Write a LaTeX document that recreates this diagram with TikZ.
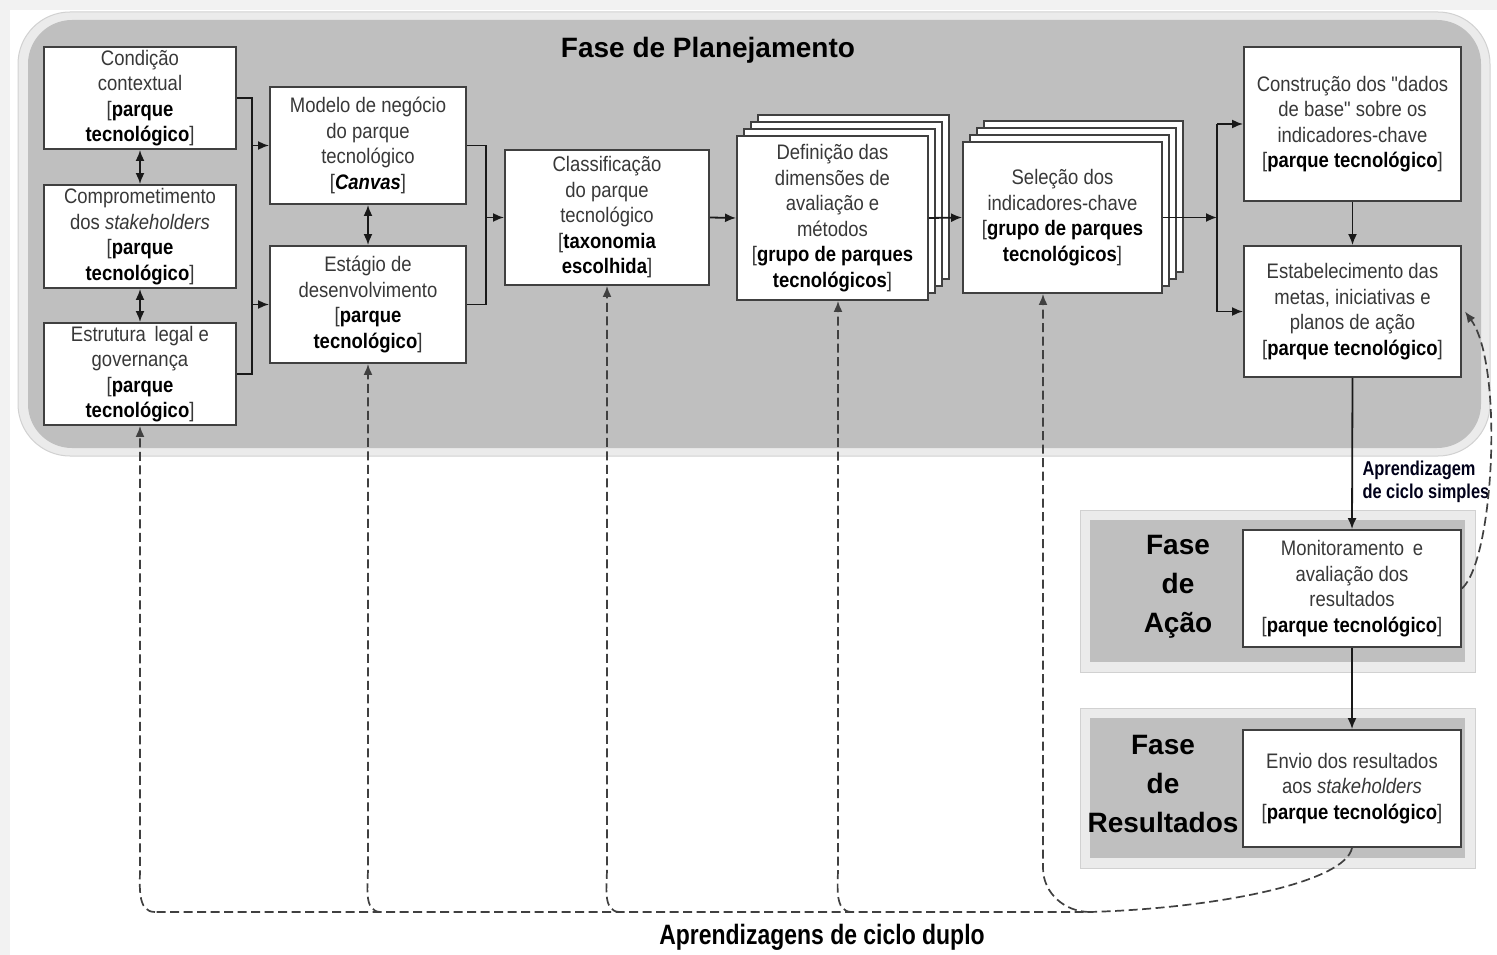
\documentclass[tikz,border=0pt]{standalone}
\usepackage{fontspec}
\setmainfont{Liberation Sans}
\newfontfamily\narrowfont[FakeStretch=0.88]{Liberation Sans}
\newfontfamily\tightfont[FakeStretch=0.82]{Liberation Sans}
\usetikzlibrary{arrows.meta,shadows,calc}

\definecolor{panelgray}{gray}{0.75}
\definecolor{bandgray}{gray}{0.92}
\definecolor{framegray}{gray}{0.82}
\definecolor{edgegray}{gray}{0.25}
\definecolor{txtgray}{gray}{0.22}
\definecolor{linegray}{gray}{0.10}
\definecolor{dashgray}{gray}{0.25}

\newcommand{\bb}[1]{\textcolor{black}{\bfseries #1}}

\tikzset{
  stepbox/.style={draw=edgegray, line width=1.9pt, fill=white, inner sep=0pt,
    align=center, text=txtgray, font=\narrowfont\fontsize{21}{25.5}\selectfont},
  stackbox/.style={stepbox,
    copy shadow={shadow xshift=21pt, shadow yshift=21pt, draw=edgegray, line width=1.9pt, fill=white},
    copy shadow={shadow xshift=14pt, shadow yshift=14pt, draw=edgegray, line width=1.9pt, fill=white},
    copy shadow={shadow xshift=7pt, shadow yshift=7pt, draw=edgegray, line width=1.9pt, fill=white}},
  plain/.style={draw=linegray, line width=1.8pt},
  link/.style={plain, -{Latex[length=11pt,width=9pt]}},
  bilink/.style={plain, {Latex[length=11pt,width=9pt]}-{Latex[length=11pt,width=9pt]}},
  loopline/.style={draw=dashgray, line width=1.7pt, dash pattern=on 9pt off 4.5pt},
  looparrow/.style={loopline, -{Latex[length=11pt,width=9pt]}},
  phasetitle/.style={font=\bfseries\fontsize{28}{39}\selectfont, align=center, text=black},
}

\begin{document}
\begin{tikzpicture}[x=1pt, y=-1pt]
\useasboundingbox (0,0) rectangle (1497,955);

% page frame strips
\fill[black!5] (0,0) rectangle (1497,10);
\fill[black!5] (0,0) rectangle (10,955);

% planning panel
\draw[draw=framegray, line width=1pt, fill=bandgray, rounded corners=52pt] (18,12) rectangle (1490,456);
\fill[panelgray, rounded corners=44pt] (28,20) rectangle (1481,448);
\node[font=\bfseries\fontsize{28}{33}\selectfont] (ptitle) at (708,50) {Fase de Planejamento};

% action and results panels
\draw[draw=framegray, line width=1pt, fill=bandgray] (1080,510) rectangle (1475,672);
\fill[panelgray] (1090,520) rectangle (1465,662);
\draw[draw=framegray, line width=1pt, fill=bandgray] (1080,708) rectangle (1475,868);
\fill[panelgray] (1090,718) rectangle (1465,858);
\node[phasetitle] (tacao) at (1178,587) {Fase\\de\\Ação};
\node[phasetitle] (tres) at (1163,784) {Fase\\de\\Resultados};

% planning steps
\node[stepbox, minimum width=192pt, minimum height=102pt] (cond) at (140,98)
  {Condição\\contextual\\{[}\bb{parque}\\\bb{tecnológico}{]}};
\node[stepbox, minimum width=192pt, minimum height=103pt] (comp) at (140,236.5)
  {Comprometimento\\dos \textit{stakeholders}\\{[}\bb{parque}\\\bb{tecnológico}{]}};
\node[stepbox, minimum width=192pt, minimum height=102pt] (estr) at (140,374)
  {Estrutura\, legal e\\governança\\{[}\bb{parque}\\\bb{tecnológico}{]}};
\node[stepbox, minimum width=196pt, minimum height=117pt] (mod) at (368,145.5)
  {Modelo de negócio\\do parque\\tecnológico\\{[}\bb{\itshape Canvas}{]}};
\node[stepbox, minimum width=196pt, minimum height=117pt] (estg) at (368,304.5)
  {Estágio de\\desenvolvimento\\{[}\bb{parque}\\\bb{tecnológico}{]}};
\node[stepbox, minimum width=204pt, minimum height=135pt] (cls) at (607,217.5)
  {Classificação\\do parque\\tecnológico\\{[}\bb{taxonomia}\\\bb{escolhida}{]}};
\node[stackbox, minimum width=191pt, minimum height=164pt] (def) at (832.5,218)
  {Definição das\\dimensões de\\avaliação e\\métodos\\{[}\bb{grupo de parques}\\\bb{tecnológicos}{]}};
\node[stackbox, minimum width=199pt, minimum height=151pt] (sel) at (1062.5,217.5)
  {Seleção dos\\indicadores-chave\\{[}\bb{grupo de parques}\\\bb{tecnológicos}{]}};
\node[stepbox, minimum width=217pt, minimum height=154pt] (cons) at (1352.5,124)
  {Construção dos "dados\\de base" sobre os\\indicadores-chave\\{[}\bb{parque tecnológico}{]}};
\node[stepbox, minimum width=217pt, minimum height=131pt] (estb) at (1352.5,311.5)
  {Estabelecimento das\\metas, iniciativas e\\planos de ação\\{[}\bb{parque tecnológico}{]}};

% action and results steps
\node[stepbox, minimum width=218pt, minimum height=117pt] (mon) at (1352,588.5)
  {Monitoramento\, e\\avaliação dos\\resultados\\{[}\bb{parque tecnológico}{]}};
\node[stepbox, minimum width=218pt, minimum height=117pt] (env) at (1352,788.5)
  {Envio dos resultados\\aos \textit{stakeholders}\\{[}\bb{parque tecnológico}{]}};

% solid flow connectors
\draw[bilink] (cond.south) -- (comp.north);
\draw[bilink] (comp.south) -- (estr.north);
\draw[bilink] (mod.south) -- (estg.north);

\coordinate (bl) at (252,98);
\draw[plain] (cond.east) -- (bl) -- (bl |- estr.east) -- (estr.east);
\draw[link] (bl |- mod.west) -- (mod.west);
\draw[link] (bl |- estg.west) -- (estg.west);

\coordinate (bm) at (486,145.5);
\draw[plain] (mod.east) -- (bm) -- (bm |- estg.east) -- (estg.east);
\draw[link] (bm |- cls.west) -- (cls.west);

\draw[link] (cls.east) -- (def.west);
\draw[link] (def.east) -- (sel.west);

\coordinate (br) at (1217,124);
\draw[link] (sel.east) -- (br |- sel.east);
\draw[plain] (br) -- (br |- estb.west);
\draw[link] (br) -- (cons.west);
\draw[link] (br |- estb.west) -- (estb.west);

\draw[link] (cons.south) -- (estb.north);
\draw[link] (estb.south) -- (mon.north);
\draw[link] (mon.south) -- (env.north);

\node[anchor=west, align=left, font=\tightfont\bfseries\fontsize{20}{23}\selectfont, text=black!90!blue]
  (simples) at (1359,482) {Aprendizagem\\de ciclo simples};

% single loop learning
\draw[looparrow] (mon.east) .. controls (1494,560) and (1504,365) .. ([xshift=3pt]estb.east);

% double loop learning
\coordinate (jl) at (155,912);
\coordinate (js) at (1090,912);
\draw[loopline] (env.south) .. controls (1345,882) and (1220,908) .. (js) -- (jl);
\coordinate (j1) at (155,912);
\coordinate (j2) at (381,912);
\coordinate (j3) at (620,912);
\coordinate (j4) at (852,912);
\draw[looparrow] (j1) to[out=180,in=-90] (140,868) -- (estr.south);
\draw[looparrow] (j2) to[out=180,in=-90] (368,868) -- (estg.south);
\draw[looparrow] (j3) to[out=180,in=-90] (607,868) -- (cls.south);
\draw[looparrow] (j4) to[out=180,in=-90] (838,868) -- ([xshift=5.5pt]def.south);
\draw[looparrow] (js) to[out=180,in=-90] (1043,868) -- ([xshift=-19.5pt]sel.south);

\node[font=\tightfont\bfseries\fontsize{28}{32}\selectfont] (duplo) at (822,937) {Aprendizagens de ciclo duplo};
\end{tikzpicture}
\end{document}
